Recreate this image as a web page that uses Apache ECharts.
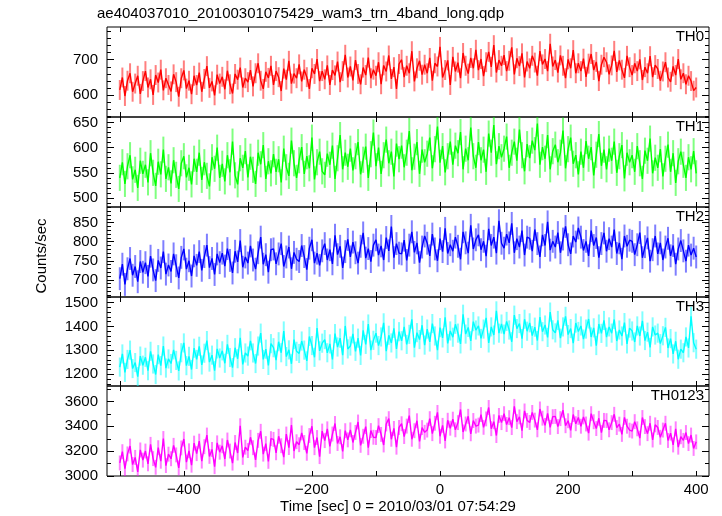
<!DOCTYPE html>
<html>
<head>
<meta charset="utf-8">
<script src="https://cdn.jsdelivr.net/npm/echarts@6/dist/echarts.min.js"></script>
<style>
html,body{margin:0;padding:0;background:#fff;}
#chart{width:722px;height:516px;}
</style>
</head>
<body>
<div id="chart"></div>
<script>
// ---- Data (counts/sec, 4-s steps starting at t0) ----
const t0 = -500;
const binSec = 4;
const th0 = [
615,650,598,641,662,610,633,655,604,640,
668,622,645,601,657,636,672,614,648,629,
611,659,637,596,648,670,619,641,603,655,
629,664,610,646,682,621,639,600,658,633,
652,617,669,631,605,660,644,678,622,648,
637,671,625,662,690,641,618,666,649,683,
629,668,651,612,675,644,697,633,661,648,
687,639,672,651,618,676,660,702,640,668,
645,684,629,671,656,695,637,668,714,650,
681,642,699,660,631,678,657,706,648,672,
655,693,631,684,667,712,646,679,618,688,
700,651,683,662,724,639,676,697,658,686,
662,705,641,690,681,736,650,671,698,629,
708,667,692,648,719,683,661,705,676,728,
671,702,654,693,722,680,741,664,699,683,
713,668,697,735,659,704,682,718,650,695,
676,711,692,655,724,687,702,668,745,681,
699,664,712,683,648,701,676,727,662,690,
668,703,652,689,716,671,694,640,686,707,
693,659,684,725,666,698,672,649,711,679,
657,690,668,701,643,679,662,710,651,685,
674,641,667,693,650,638,681,657,702,645,
662,631,655,640,613,622];
const th1 = [
540,571,528,563,585,537,556,520,574,548,
566,531,589,550,524,572,547,596,538,561,
529,575,546,518,569,583,541,560,527,578,
552,590,536,571,544,523,581,558,600,540,
568,533,585,551,612,545,527,579,560,593,
541,582,556,528,590,567,605,538,573,549,
587,552,577,531,598,561,544,614,569,540,
575,601,548,583,559,620,537,571,592,553,
546,588,566,604,538,579,625,557,590,562,
598,555,583,611,547,576,602,540,587,630,
563,600,548,585,616,569,592,543,608,577,
604,561,590,633,555,582,611,548,596,571,
588,620,559,597,642,570,603,551,583,612,
566,604,589,631,557,598,575,640,583,560,
611,575,596,552,628,590,645,567,603,581,
598,622,560,590,612,574,636,585,553,607,
579,614,595,648,566,601,578,625,557,593,
606,571,590,634,559,597,620,568,585,547,
592,560,613,578,601,545,586,627,564,596,
557,598,574,612,550,583,605,539,590,571,
585,552,603,569,538,594,574,618,549,580,
560,597,543,578,606,552,589,530,573,592,
566,540,581,557,593,549];
const th2 = [
703,741,688,729,756,712,735,695,748,720,
745,709,762,726,698,751,731,774,715,739,
722,768,737,705,759,781,728,750,710,763,
738,774,725,761,791,732,756,714,768,745,
770,736,782,751,718,775,747,803,733,760,
744,789,752,728,771,812,741,766,720,779,
781,742,768,795,735,760,786,729,772,754,
748,790,761,727,783,805,744,770,738,776,
795,752,779,742,817,766,788,731,774,806,
760,799,771,744,788,823,757,782,748,791,
805,765,789,752,811,776,840,758,795,770,
768,804,751,791,826,772,797,745,786,815,
796,763,820,781,750,808,774,835,769,792,
775,812,788,754,826,797,770,843,781,805,
818,779,801,762,834,790,812,770,855,796,
783,820,797,848,771,808,786,829,765,812,
809,775,832,795,760,818,790,852,778,801,
786,824,771,807,840,792,768,815,799,836,
812,777,801,763,829,790,811,758,795,823,
775,808,786,832,769,797,754,815,788,804,
801,766,792,824,758,787,810,749,779,815,
768,797,752,786,809,763,790,741,781,803,
776,749,791,765,783,760];
const th3 = [
1230,1285,1208,1262,1301,1224,1249,1190,1276,1238,
1271,1215,1296,1243,1199,1282,1236,1318,1226,1264,
1245,1302,1258,1214,1290,1331,1236,1275,1220,1309,
1262,1317,1239,1288,1341,1251,1280,1215,1306,1268,
1298,1246,1325,1270,1228,1311,1265,1352,1241,1289,
1276,1340,1289,1245,1318,1372,1262,1305,1237,1328,
1311,1259,1336,1290,1381,1274,1302,1244,1345,1296,
1287,1339,1301,1256,1358,1320,1271,1393,1298,1330,
1345,1290,1327,1262,1370,1314,1351,1280,1402,1306,
1318,1369,1296,1351,1279,1384,1325,1410,1301,1342,
1372,1320,1356,1415,1297,1363,1331,1392,1306,1378,
1340,1398,1325,1367,1430,1311,1374,1345,1405,1322,
1389,1335,1412,1360,1301,1395,1352,1438,1329,1381,
1355,1409,1372,1327,1451,1368,1396,1340,1420,1385,
1402,1350,1389,1436,1331,1398,1364,1465,1372,1410,
1368,1421,1385,1336,1447,1391,1412,1349,1430,1380,
1415,1362,1397,1341,1439,1378,1406,1354,1460,1386,
1373,1425,1351,1398,1442,1366,1391,1330,1414,1379,
1402,1347,1389,1431,1356,1394,1320,1410,1371,1425,
1355,1398,1372,1429,1339,1385,1360,1416,1327,1393,
1381,1335,1402,1360,1423,1341,1376,1312,1398,1364,
1372,1328,1361,1396,1310,1349,1285,1338,1263,1305,
1290,1356,1310,1442,1332,1305];
const th0123 = [
3105,3196,3060,3178,3241,3092,3150,3033,3210,3128,
3201,3098,3255,3140,3070,3228,3119,3302,3084,3176,
3139,3247,3170,3065,3226,3298,3112,3203,3087,3265,
3180,3281,3120,3236,3330,3158,3214,3075,3267,3192,
3243,3137,3290,3201,3104,3270,3185,3405,3150,3232,
3205,3312,3228,3130,3287,3360,3176,3261,3118,3301,
3295,3187,3320,3244,3152,3338,3229,3410,3201,3276,
3252,3347,3270,3183,3326,3401,3228,3310,3156,3362,
3285,3380,3239,3338,3423,3262,3316,3198,3365,3291,
3372,3270,3351,3435,3247,3320,3398,3228,3366,3312,
3310,3406,3335,3250,3419,3462,3296,3383,3232,3391,
3421,3318,3402,3487,3296,3365,3445,3279,3390,3352,
3370,3462,3341,3425,3512,3320,3408,3282,3449,3385,
3458,3372,3430,3536,3355,3419,3481,3340,3447,3402,
3410,3495,3392,3460,3552,3381,3437,3326,3488,3430,
3502,3415,3470,3390,3561,3438,3476,3365,3524,3448,
3431,3512,3450,3372,3540,3466,3408,3505,3392,3478,
3480,3398,3462,3530,3405,3445,3368,3495,3421,3472,
3401,3476,3419,3345,3502,3437,3382,3465,3350,3448,
3446,3372,3430,3497,3390,3418,3335,3472,3401,3369,
3362,3438,3380,3305,3471,3398,3341,3425,3290,3412,
3391,3312,3370,3425,3286,3345,3250,3380,3232,3316,
3287,3350,3261,3330,3222,3275];

const panelNames = ['TH0','TH1','TH2','TH3','TH0123'];
const panelColors = ['#ff0000','#00ff00','#0000ff','#00ffff','#ff00ff'];
const panelErr = [28, 26, 30, 40, 60];
const panelSeries = [th0, th1, th2, th3, th0123];
const yMin = [539, 482, 655, 1151, 3000];
const yMax = [792, 661, 891, 1523, 3725];
const yLabels = [
  [600,700],
  [500,550,600,650],
  [700,750,800,850],
  [1200,1300,1400,1500],
  [3000,3200,3400,3600]
];
const yMinor = [
  [540,560,580,620,640,660,680,720,740,760,780],
  [490,510,520,530,540,560,570,580,590,610,620,630,640,660],
  [660,670,680,690,710,720,730,740,760,770,780,790,810,820,830,840,860,870,880,890],
  [1160,1180,1220,1240,1260,1280,1320,1340,1360,1380,1420,1440,1460,1480,1520],
  [3100,3300,3500,3700]
];
const xMin = -520, xMax = 420;
const xTicks = [-500,-400,-300,-200,-100,0,100,200,300,400];
const xLabels = [-400,-200,0,200,400];

const gridTops = [27,117,207,297,386];
const gridHeights = [90,90,90,89,90];
const FONT = 'Liberation Sans, Arial, Helvetica, sans-serif';

const grids = [], xAxes = [], yAxes = [], series = [], graphics = [];
const minusFmt = v => String(v).replace('-', '\u2212');
const plainFmt = v => String(v);

for (let i = 0; i < 5; i++) {
  grids.push({left:107, right:13, top:gridTops[i], height:gridHeights[i],
    show:true, borderColor:'#000', borderWidth:1, backgroundColor:'transparent'});
  ['bottom','top'].forEach(pos => {
    xAxes.push({gridIndex:i, type:'value', min:xMin, max:xMax, position:pos,
      axisLine:{show:false, onZero:false}, splitLine:{show:false},
      axisTick:{show:true, inside:true, length:5, customValues:xTicks, lineStyle:{color:'#000', width:1}},
      axisLabel:{show:(i===4 && pos==='bottom'), customValues:xLabels, formatter:minusFmt,
        color:'#000', fontSize:15, fontFamily:FONT, margin:6}});
  });
  [['left',yLabels[i],7,true],['left',yMinor[i],4,false],['right',yLabels[i],7,false],['right',yMinor[i],4,false]].forEach(a => {
    yAxes.push({gridIndex:i, type:'value', min:yMin[i], max:yMax[i], position:a[0],
      axisLine:{show:false, onZero:false}, splitLine:{show:false},
      axisTick:{show:true, inside:true, length:a[2], customValues:a[1], lineStyle:{color:'#000', width:1}},
      axisLabel:{show:a[3], customValues:a[1], formatter:plainFmt, color:'#000', fontSize:15, fontFamily:FONT, margin:9}});
  });
  const vals = panelSeries[i];
  const err = panelErr[i];
  const data = vals.map((v, k) => [t0 + k*binSec, v]);
  const color = panelColors[i];
  series.push({type:'custom', xAxisIndex:2*i, yAxisIndex:4*i, clip:true, silent:true,
    data: data.map(d => [d[0], d[1], err]),
    renderItem: (params, api) => {
      const x = api.value(0), y = api.value(1), e = api.value(2);
      const p1 = api.coord([x, y - e]), p2 = api.coord([x, y + e]);
      return {type:'line', shape:{x1:p1[0], y1:p1[1], x2:p2[0], y2:p2[1]},
        style:{stroke:color, lineWidth:2, opacity:0.5}};
    }});
  series.push({type:'line', xAxisIndex:2*i, yAxisIndex:4*i, data:data,
    showSymbol:false, silent:true, clip:true, lineStyle:{color:color, width:1.4}});
  graphics.push({type:'text', right:722-704, top:gridTops[i]+2,
    style:{text:panelNames[i], fill:'#000', font:'15px '+FONT, textAlign:'right'}});
}

graphics.push({type:'text', left:97, top:6,
  style:{text:'ae404037010_20100301075429_wam3_trn_4band_long.qdp', fill:'#000', font:'15px '+FONT}});
graphics.push({type:'text', x:398, y:507,
  style:{text:'Time [sec] 0 = 2010/03/01 07:54:29', fill:'#000', font:'15px '+FONT, textAlign:'center', textVerticalAlign:'middle'}});
graphics.push({type:'text', x:42, y:256, rotation:Math.PI/2,
  style:{text:'Counts/sec', fill:'#000', font:'15px '+FONT, textAlign:'center', textVerticalAlign:'middle'}});

const chart = echarts.init(document.getElementById('chart'), null, {renderer:'canvas'});
chart.setOption({
  backgroundColor:'#fff',
  animation:false,
  grid:grids, xAxis:xAxes, yAxis:yAxes, series:series, graphic:graphics
});
</script>
</body>
</html>
